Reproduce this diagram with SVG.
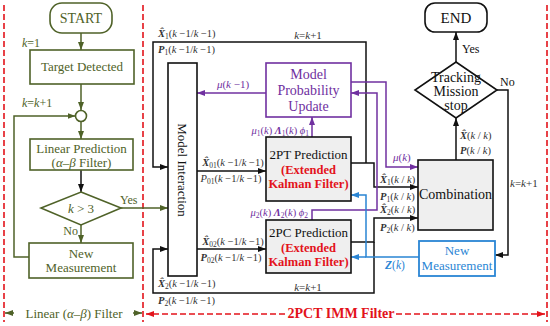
<svg xmlns="http://www.w3.org/2000/svg" width="550" height="326" viewBox="0 0 550 326">
<style>
text{font-family:"Liberation Serif","Times New Roman",serif;}
.gb{fill:#fff;stroke:#4f6228;stroke-width:1.6}
.gl{fill:none;stroke:#4f6228;stroke-width:1.5}
.gt{fill:#4f6228;font-size:13px;text-anchor:middle}
.bk{fill:none;stroke:#111;stroke-width:1.5}
.bx{fill:#fff;stroke:#111;stroke-width:1.6}
.gx{fill:#efefef;stroke:#111;stroke-width:1.6}
.pl{fill:none;stroke:#7030a0;stroke-width:1.5}
.pb{fill:#fff;stroke:#7030a0;stroke-width:1.6}
.pt{fill:#7030a0;font-size:14px;text-anchor:middle}
.bl{fill:none;stroke:#2a85d4;stroke-width:1.5}
.bb{fill:#fff;stroke:#2a85d4;stroke-width:1.8}
.bt{fill:#2a85d4;font-size:13px;text-anchor:middle}
.rd{fill:none;stroke:#e3131b;stroke-width:1.6;stroke-dasharray:6,3}
.t{fill:#111;font-size:13px;text-anchor:middle}
.rt{fill:#e3131b;font-size:12.5px;font-weight:bold;text-anchor:middle}
.lb{fill:#333;font-size:10.5px}
.lbp{fill:#7030a0;font-size:10.5px}
.i{font-style:italic}
.bi{font-style:italic;font-weight:bold}
.s{font-size:7.5px}
</style>
<defs>
<marker id="ag" viewBox="0 0 8 6" refX="8" refY="3" markerWidth="8" markerHeight="6" orient="auto" markerUnits="userSpaceOnUse"><path d="M0,0 L8,3 L0,6 z" fill="#4f6228"/></marker>
<marker id="ak" viewBox="0 0 8 6" refX="8" refY="3" markerWidth="8" markerHeight="6" orient="auto" markerUnits="userSpaceOnUse"><path d="M0,0 L8,3 L0,6 z" fill="#111"/></marker>
<marker id="ap" viewBox="0 0 8 6" refX="8" refY="3" markerWidth="8" markerHeight="6" orient="auto" markerUnits="userSpaceOnUse"><path d="M0,0 L8,3 L0,6 z" fill="#7030a0"/></marker>
<marker id="ab" viewBox="0 0 8 6" refX="8" refY="3" markerWidth="8" markerHeight="6" orient="auto" markerUnits="userSpaceOnUse"><path d="M0,0 L8,3 L0,6 z" fill="#2a85d4"/></marker>
<marker id="ar" viewBox="0 0 8 6" refX="8" refY="3" markerWidth="8" markerHeight="6" orient="auto" markerUnits="userSpaceOnUse"><path d="M0,0 L8,3 L0,6 z" fill="#e3131b"/></marker>
</defs>

<g id="section-borders">
<path class="rd" d="M4,5 V322 M143,5 V322 M547,5 V322"/>
<path class="rd" d="M285,314 H146" marker-end="url(#ar)"/>
<path class="rd" d="M396,314 H545" marker-end="url(#ar)"/>
<path class="gl" d="M14,313 H5" marker-end="url(#ag)"/>
<path class="gl" d="M133,313 H142" marker-end="url(#ag)"/>
<text x="74" y="318" class="gt">Linear (<tspan class="i">α</tspan>–<tspan class="i">β</tspan>) Filter</text>
<text x="341" y="318" style="fill:#e3131b;font-size:14px;font-weight:bold;text-anchor:middle">2PCT IMM Filter</text>
</g>

<g id="connectors">
<path class="gl" d="M81,33 V50" marker-end="url(#ag)"/>
<path class="gl" d="M81,84 V110" marker-end="url(#ag)"/>
<path class="gl" d="M81,121.5 V139" marker-end="url(#ag)"/>
<path class="bk" d="M81,170 V192" marker-end="url(#ak)"/>
<path class="gl" d="M81,225 V243" marker-end="url(#ag)"/>
<path class="gl" d="M29,257 H14 V116 H75.5" marker-end="url(#ag)"/>
<path class="gl" d="M121,208 H168" marker-end="url(#ag)"/>
<path class="bk" d="M366,163 V42 H153 V167 H168" marker-end="url(#ak)"/>
<path class="bk" d="M351,163 H374 V187 H418" marker-end="url(#ak)"/>
<path class="bk" d="M351,242 H374 V218 H418" marker-end="url(#ak)"/>
<path class="bk" d="M374,242 V293 H153 V249 H168" marker-end="url(#ak)"/>
<path class="bk" d="M197,171 H266" marker-end="url(#ak)"/>
<path class="bk" d="M197,249 H266" marker-end="url(#ak)"/>
<path class="pl" d="M266,93 H197" marker-end="url(#ap)"/>
<path class="pl" d="M312,137 V117" marker-end="url(#ap)"/>
<path class="pl" d="M312,220 V210 H377 V93 H351" marker-end="url(#ap)"/>
<path class="pl" d="M351,82 H386 V167 H418" marker-end="url(#ap)"/>
<path class="bl" d="M419,257 H366 V195 H351" marker-end="url(#ab)"/>
<path class="bl" d="M366,257 H351" marker-end="url(#ab)"/>
<path class="bk" d="M456,160 V118" marker-end="url(#ak)"/>
<path class="bk" d="M456,62 V32" marker-end="url(#ak)"/>
<path class="bk" d="M497,90 H508 V255 H495" marker-end="url(#ak)"/>
</g>

<g id="connector-labels">
<text x="22" y="47" class="gt" style="text-anchor:start;font-size:12px"><tspan class="i">k</tspan>=1</text>
<text x="22" y="107" class="gt" style="text-anchor:start;font-size:12px"><tspan class="i">k</tspan>=<tspan class="i">k</tspan>+1</text>
<text x="120" y="204" class="gt" style="text-anchor:start;font-size:12px">Yes</text>
<text x="78" y="235" class="gt" style="text-anchor:end;font-size:12px">No</text>

<text x="158" y="37" class="lb"><tspan class="bi">X̂</tspan><tspan class="s" dy="2">1</tspan><tspan dy="-2">(</tspan><tspan class="i">k</tspan> −1/<tspan class="i">k</tspan> −1)</text>
<text x="158" y="53" class="lb"><tspan class="bi">P</tspan><tspan class="s" dy="2">1</tspan><tspan dy="-2">(</tspan><tspan class="i">k</tspan> −1/<tspan class="i">k</tspan> −1)</text>
<text x="308" y="39" class="lb" style="text-anchor:middle;font-size:11px"><tspan class="i">k</tspan>=<tspan class="i">k</tspan>+1</text>
<text x="158" y="287" class="lb"><tspan class="bi">X̂</tspan><tspan class="s" dy="2">2</tspan><tspan dy="-2">(</tspan><tspan class="i">k</tspan> −1/<tspan class="i">k</tspan> −1)</text>
<text x="158" y="304" class="lb"><tspan class="bi">P</tspan><tspan class="s" dy="2">2</tspan><tspan dy="-2">(</tspan><tspan class="i">k</tspan> −1/<tspan class="i">k</tspan> −1)</text>
<text x="308" y="291" class="lb" style="text-anchor:middle;font-size:11px"><tspan class="i">k</tspan>=<tspan class="i">k</tspan>+1</text>

<text x="233" y="166" class="lb" style="text-anchor:middle"><tspan class="bi">X̂</tspan><tspan class="s" dy="2">01</tspan><tspan dy="-2">(</tspan><tspan class="i">k</tspan> −1/<tspan class="i">k</tspan> −1)</text>
<text x="231" y="182" class="lb" style="text-anchor:middle"><tspan class="i">P</tspan><tspan class="s" dy="2">01</tspan><tspan dy="-2">(</tspan><tspan class="i">k</tspan> −1/<tspan class="i">k</tspan> −1)</text>
<text x="233" y="245" class="lb" style="text-anchor:middle"><tspan class="bi">X̂</tspan><tspan class="s" dy="2">02</tspan><tspan dy="-2">(</tspan><tspan class="i">k</tspan> −1/<tspan class="i">k</tspan> −1)</text>
<text x="231" y="261" class="lb" style="text-anchor:middle"><tspan class="bi">P</tspan><tspan class="s" dy="2">02</tspan><tspan dy="-2">(</tspan><tspan class="i">k</tspan> −1/<tspan class="i">k</tspan> −1)</text>

<text x="233" y="88" class="lbp" style="text-anchor:middle;font-size:11px"><tspan class="i">μ</tspan>(<tspan class="i">k</tspan> −1)</text>
<text x="309" y="134" class="lbp" style="text-anchor:end"><tspan class="i">μ</tspan><tspan class="s" dy="2">1</tspan><tspan dy="-2">(</tspan><tspan class="i">k</tspan>) <tspan class="bi">Λ</tspan><tspan class="s" dy="2">1</tspan><tspan dy="-2">(</tspan><tspan class="i">k</tspan>) <tspan class="i">ϕ</tspan><tspan class="s" dy="2">1</tspan></text>
<text x="308" y="216" class="lbp" style="text-anchor:end"><tspan class="i">μ</tspan><tspan class="s" dy="2">2</tspan><tspan dy="-2">(</tspan><tspan class="i">k</tspan>) <tspan class="bi">Λ</tspan><tspan class="s" dy="2">2</tspan><tspan dy="-2">(</tspan><tspan class="i">k</tspan>) <tspan class="i">ϕ</tspan><tspan class="s" dy="2">2</tspan></text>
<text x="393" y="161" class="lbp" style="font-size:11px"><tspan class="i">μ</tspan>(<tspan class="i">k</tspan>)</text>

<text x="380" y="183" class="lb"><tspan class="bi">X̂</tspan><tspan class="s" dy="2">1</tspan><tspan dy="-2">(</tspan><tspan class="i">k</tspan> / <tspan class="i">k</tspan>)</text>
<text x="380" y="200" class="lb"><tspan class="bi">P</tspan><tspan class="s" dy="2">1</tspan><tspan dy="-2">(</tspan><tspan class="i">k</tspan> / <tspan class="i">k</tspan>)</text>
<text x="380" y="213" class="lb"><tspan class="bi">X̂</tspan><tspan class="s" dy="2">2</tspan><tspan dy="-2">(</tspan><tspan class="i">k</tspan> / <tspan class="i">k</tspan>)</text>
<text x="380" y="231" class="lb"><tspan class="bi">P</tspan><tspan class="s" dy="2">2</tspan><tspan dy="-2">(</tspan><tspan class="i">k</tspan> / <tspan class="i">k</tspan>)</text>
<text x="385" y="269" style="fill:#2a85d4;font-size:11.5px"><tspan class="bi">Z</tspan>(<tspan class="i">k</tspan>)</text>

<text x="460" y="139" class="lb"><tspan class="bi">X̂</tspan>(<tspan class="i">k</tspan> / <tspan class="i">k</tspan>)</text>
<text x="460" y="154" class="lb"><tspan class="bi">P</tspan>(<tspan class="i">k</tspan> / <tspan class="i">k</tspan>)</text>
<text x="462" y="53" class="t" style="text-anchor:start;font-size:12px">Yes</text>
<text x="500" y="86" class="t" style="text-anchor:start;font-size:12px">No</text>
<text x="510" y="187" class="lb" style="font-size:11px"><tspan class="i">k</tspan>=<tspan class="i">k</tspan>+1</text>
</g>

<g id="start">
<rect x="50" y="3" width="62" height="30" rx="12" class="gb"/>
<text x="81" y="23" class="gt" style="font-size:14px">START</text>
</g>
<g id="target-detected">
<rect x="30" y="50" width="104" height="34" class="gb"/>
<text x="82" y="71" class="gt">Target Detected</text>
</g>
<g id="junction">
<circle cx="81" cy="116" r="5.5" class="gb"/>
</g>
<g id="linear-prediction">
<rect x="30" y="139" width="103" height="31" class="gb"/>
<text x="81.5" y="153" class="gt">Linear Prediction</text>
<text x="81.5" y="167" class="gt">(<tspan class="i">α</tspan>–<tspan class="i">β</tspan>  Filter)</text>
</g>
<g id="k-check">
<polygon points="81,192 121,208 81,225 41,208" class="gb"/>
<text x="81" y="213" class="gt"><tspan class="i">k</tspan> &gt; 3</text>
</g>
<g id="new-measurement-linear">
<rect x="29" y="243" width="104" height="35" class="gb"/>
<text x="81" y="258" class="gt">New</text>
<text x="81" y="272" class="gt">Measurement</text>
</g>

<g id="model-interaction">
<rect x="168" y="63" width="29" height="213" class="bx"/>
<text transform="translate(182.5,170) rotate(90)" x="0" y="4.5" class="t">Model Interaction</text>
</g>
<g id="model-probability-update">
<rect x="266" y="63" width="85" height="54" class="pb"/>
<text x="308.5" y="79" class="pt">Model</text>
<text x="308.5" y="95" class="pt">Probability</text>
<text x="308.5" y="111" class="pt">Update</text>
</g>
<g id="prediction-2pt">
<rect x="266" y="137" width="85" height="64" class="gx"/>
<text x="308.5" y="159" class="t">2PT Prediction</text>
<text x="308.5" y="174" class="rt">(Extended</text>
<text x="308.5" y="188" class="rt">Kalman Filter)</text>
</g>
<g id="prediction-2pc">
<rect x="266" y="220" width="85" height="53" class="gx"/>
<text x="308.5" y="237" class="t">2PC Prediction</text>
<text x="308.5" y="252" class="rt">(Extended</text>
<text x="308.5" y="266" class="rt">Kalman Filter)</text>
</g>
<g id="combination">
<rect x="418" y="160" width="75" height="70" class="gx"/>
<text x="455.5" y="199" class="t" style="font-size:14px">Combination</text>
</g>
<g id="tracking-stop">
<polygon points="456,62 497,90 456,118 415,90" class="bx"/>
<text x="456" y="82" class="t" style="font-size:14px">Tracking</text>
<text x="456" y="96" class="t" style="font-size:14px">Mission</text>
<text x="456" y="110" class="t" style="font-size:14px">stop</text>
</g>
<g id="end">
<rect x="425" y="3" width="62" height="29" rx="10" class="bx"/>
<text x="456" y="23" class="t" style="font-size:15px">END</text>
</g>
<g id="new-measurement-imm">
<rect x="419" y="241" width="76" height="35" class="bb"/>
<text x="457" y="255" class="bt">New</text>
<text x="457" y="270" class="bt">Measurement</text>
</g>
</svg>
